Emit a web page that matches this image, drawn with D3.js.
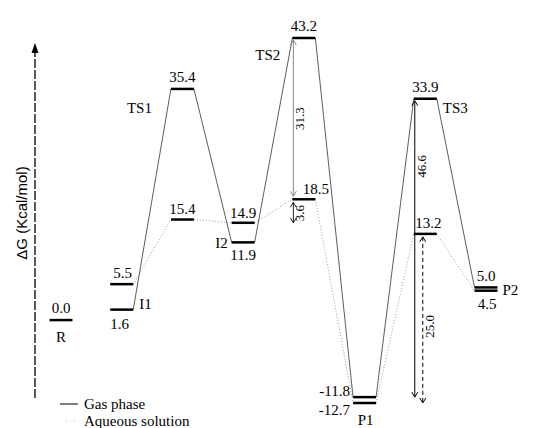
<!DOCTYPE html>
<html>
<head>
<meta charset="utf-8">
<script src="https://cdn.jsdelivr.net/npm/d3@7"></script>
<style>
  html, body { margin: 0; padding: 0; background: #fff; }
  svg { display: block; }
  text { font-family: "Liberation Serif", "Times New Roman", serif; font-size: 15px; fill: #000; }
  .sans { font-family: "Liberation Sans", Arial, sans-serif; }
</style>
</head>
<body>
<svg id="chart" width="537" height="428"></svg>
<script>
// ---- data ----
const states = ["R", "I1", "TS1", "I2", "TS2", "P1", "TS3", "P2"];
const gasValues = [0.0, 1.6, 35.4, 11.9, 43.2, -11.8, 33.9, 5.0];
const aqValues  = [0.0, 5.5, 15.4, 14.9, 18.5, -12.7, 13.2, 4.5];
const gapLabels = ["31.3", "3.6", "46.6", "25.0"];
const legendLabels = ["Gas phase", "Aqueous solution"];
const axisLabel = "ΔG (Kcal/mol)";

// ---- scales ----
const svg = d3.select("#chart");
const x = d3.scalePoint().domain(states).range([61, 486]);
const y = d3.scaleLinear().domain([-12.7, 43.2]).range([403, 38]);
const hw = 11.5;

const fmt = v => v.toFixed(1);

// ---- y axis (dashed arrow) ----
svg.append("line")
  .attr("x1", 35).attr("x2", 35)
  .attr("y1", 398).attr("y2", 50)
  .attr("stroke", "#000").attr("stroke-width", 1.3)
  .attr("stroke-dasharray", "9,2");
svg.append("path")
  .attr("d", "M35,43 L31.5,53 L38.5,53 Z")
  .attr("fill", "#000");
svg.append("text").attr("class", "sans")
  .attr("transform", "translate(27,213) rotate(-90)")
  .attr("text-anchor", "middle")
  .style("font-size", "15px")
  .text(axisLabel);

// ---- connecting lines ----
const conn = svg.append("g");
function connect(vals, stroke, width, dash) {
  for (let i = 1; i < states.length - 1; i++) {
    conn.append("line")
      .attr("x1", x(states[i]) + hw).attr("y1", y(vals[i]))
      .attr("x2", x(states[i + 1]) - hw).attr("y2", y(vals[i + 1]))
      .attr("stroke", stroke).attr("stroke-width", width)
      .attr("stroke-dasharray", dash);
  }
}
connect(aqValues, "#9a9a9a", 1, "1,2");
connect(gasValues, "#333", 0.8, null);

// ---- level bars ----
const bars = svg.append("g");
states.forEach((s, i) => {
  const list = i === 0 ? [gasValues[i]] : [gasValues[i], aqValues[i]];
  list.forEach(v => {
    bars.append("line")
      .attr("x1", x(s) - hw).attr("x2", x(s) + hw)
      .attr("y1", y(v)).attr("y2", y(v))
      .attr("stroke", "#000").attr("stroke-width", 2.5);
  });
});

// ---- labels ----
const lab = svg.append("g");
function t(xx, yy, txt, anchor) {
  lab.append("text").attr("x", xx).attr("y", yy)
    .attr("text-anchor", anchor || "middle").text(txt);
}
const cx = s => x(s);
const gi = s => gasValues[states.indexOf(s)];
const ai = s => aqValues[states.indexOf(s)];

// R
t(cx("R"), y(gi("R")) - 7, fmt(gi("R")));
t(cx("R"), y(gi("R")) + 22, "R");
// I1
t(cx("I1") + 1, y(ai("I1")) - 6, fmt(ai("I1")));
t(cx("I1") - 2, y(gi("I1")) + 19, fmt(gi("I1")));
t(cx("I1") + hw + 6, y(gi("I1")) - 1, "I1", "start");
// TS1
t(cx("TS1"), y(gi("TS1")) - 7, fmt(gi("TS1")));
t(cx("TS1") - hw - 19, y(gi("TS1")) + 24, "TS1", "end");
t(cx("TS1"), y(ai("TS1")) - 6, fmt(ai("TS1")));
// I2
t(cx("I2"), y(ai("I2")) - 5, fmt(ai("I2")));
t(cx("I2"), y(gi("I2")) + 18, fmt(gi("I2")));
t(cx("I2") - hw - 4, y(gi("I2")) + 6, "I2", "end");
// TS2
t(cx("TS2"), y(gi("TS2")) - 7, fmt(gi("TS2")));
t(cx("TS2") - hw - 12, y(gi("TS2")) + 22, "TS2", "end");
t(cx("TS2") + 12, y(ai("TS2")) - 5, fmt(ai("TS2")));
// P1
t(cx("P1") - hw - 3, y(gi("P1")) - 1, fmt(gi("P1")), "end");
t(cx("P1") - hw - 3, y(ai("P1")) + 12, fmt(ai("P1")), "end");
t(cx("P1") + 1, y(ai("P1")) + 22, "P1");
// TS3
t(cx("TS3"), y(gi("TS3")) - 7, fmt(gi("TS3")));
t(cx("TS3") + hw + 6, y(gi("TS3")) + 14, "TS3", "start");
t(cx("TS3") + 3, y(ai("TS3")) - 6, fmt(ai("TS3")));
// P2
t(cx("P2"), y(gi("P2")) - 6, fmt(gi("P2")));
t(cx("P2") + 1, y(ai("P2")) + 18, fmt(ai("P2")));
t(cx("P2") + hw + 5, (y(gi("P2")) + y(ai("P2"))) / 2 + 6, "P2", "start");

// ---- energy-gap arrows ----
const arr = svg.append("g");
function head(xx, yy, dir, color) {
  arr.append("path")
    .attr("d", `M${xx - 3},${yy - 5 * dir} L${xx},${yy} L${xx + 3},${yy - 5 * dir}`)
    .attr("fill", "none").attr("stroke", color).attr("stroke-width", 1);
}
function gap(xx, yTop, yBot, color, dash, label, ly) {
  arr.append("line")
    .attr("x1", xx).attr("x2", xx).attr("y1", yTop).attr("y2", yBot)
    .attr("stroke", color).attr("stroke-width", 1)
    .attr("stroke-dasharray", dash);
  head(xx, yTop, -1, color);
  head(xx, yBot, 1, color);
  arr.append("text")
    .attr("transform", `translate(${xx + 11},${ly}) rotate(-90)`)
    .attr("text-anchor", "middle")
    .style("font-size", "13px")
    .text(label);
}
const xTS2 = cx("TS2") - hw + 1;
gap(xTS2, y(gi("TS2")) + 2, y(ai("TS2")) - 3, "#888", null, gapLabels[0],
    (y(gi("TS2")) + y(ai("TS2"))) / 2);
gap(xTS2, y(ai("TS2")) + 3, y(ai("I2")), "#222", null, gapLabels[1],
    (y(ai("TS2")) + y(ai("I2"))) / 2 + 2);
const xTS3 = cx("TS3") - hw + 1;
gap(xTS3, y(gi("TS3")) + 2, y(gi("P1")), "#000", null, gapLabels[2],
    (y(gi("TS3")) + y(ai("TS3"))) / 2);
gap(xTS3 + 8, y(ai("TS3")) + 3, y(ai("P1")), "#000", "4,3", gapLabels[3],
    (y(ai("TS3")) + y(ai("P1"))) / 2 + 8);

// ---- legend ----
const leg = svg.append("g");
leg.append("line").attr("x1", 60).attr("x2", 78).attr("y1", 404).attr("y2", 404)
  .attr("stroke", "#000").attr("stroke-width", 1);
leg.append("line").attr("x1", 66).attr("x2", 78).attr("y1", 421).attr("y2", 421)
  .attr("stroke", "#bbb").attr("stroke-width", 1).attr("stroke-dasharray", "1,3");
leg.append("text").attr("x", 84).attr("y", 409).text(legendLabels[0]);
leg.append("text").attr("x", 84).attr("y", 426).text(legendLabels[1]);
</script>
</body>
</html>
